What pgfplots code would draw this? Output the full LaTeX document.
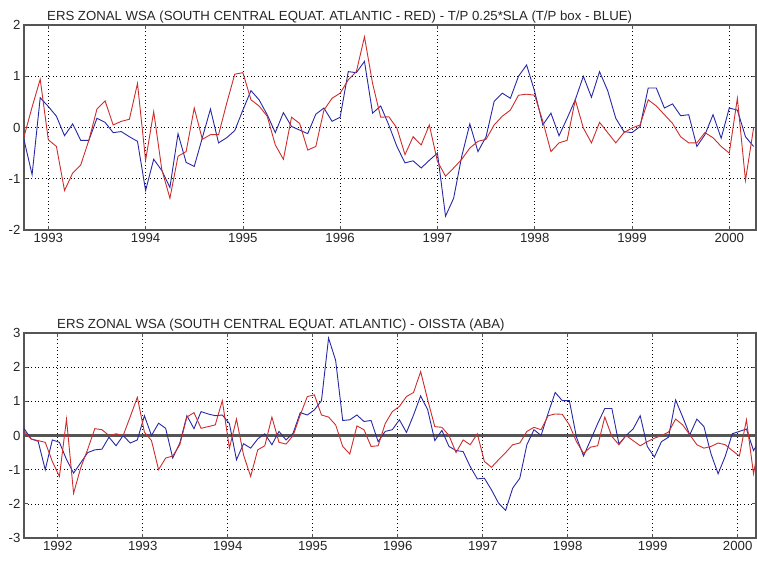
\documentclass[border=0pt]{standalone}
\usepackage{fontspec}
\setmainfont{Liberation Sans}
\usepackage{pgfplots}
\pgfplotsset{compat=1.18}
\definecolor{mred}{RGB}{205,45,45}
\definecolor{mblue}{RGB}{40,40,165}
\definecolor{mframe}{RGB}{85,85,85}
\pgfplotsset{mstyle/.style={
  scale only axis, width=732pt, height=205pt,
  axis line style={draw=mframe, line width=1.3pt},
  tick align=inside, major tick length=4pt,
  major tick style={draw=mframe, line width=0.7pt},
  grid=major,
  major grid style={draw=black, line width=0.6pt, dash pattern=on 0.6pt off 3pt},
  tick label style={font=\fontsize{13.2}{15}\selectfont, text=black!85},
}}
\begin{document}
\begin{tikzpicture}
\path[use as bounding box] (0,0) rectangle (757pt,560pt);
% ---------- top panel ----------
\begin{axis}[mstyle, at={(24pt,330pt)}, anchor=south west,
  xmin=0, xmax=90.3, ymin=-2, ymax=2,
  xtick={3,15,27,39,51,63,75,87},
  xticklabels={1993,1994,1995,1996,1997,1998,1999,2000},
  ytick={-2,-1,0,1,2}, yticklabels={-2,-1,0,1,2}]
\addplot[mblue, line width=0.9pt] coordinates {
(0,-0.24)(1,-0.92)(2,0.58)(3,0.41)(4,0.22)(5,-0.16)(6,0.07)(7,-0.25)(8,-0.25)(9,0.18)(10,0.1)(11,-0.1)(12,-0.08)(13,-0.18)(14,-0.27)(15,-1.23)(16,-0.62)(17,-0.84)(18,-1.17)(19,-0.12)(20,-0.68)(21,-0.76)(22,-0.2)(23,0.36)(24,-0.3)(25,-0.2)(26,-0.06)(27,0.34)(28,0.72)(29,0.54)(30,0.25)(31,-0.1)(32,0.29)(33,0.02)(34,-0.05)(35,-0.12)(36,0.26)(37,0.38)(38,0.12)(39,0.2)(40,1.09)(41,1.07)(42,1.29)(43,0.28)(44,0.42)(45,0.05)(46,-0.37)(47,-0.69)(48,-0.65)(49,-0.79)(50,-0.64)(51,-0.5)(52,-1.73)(53,-1.38)(54,-0.56)(55,0.07)(56,-0.47)(57,-0.18)(58,0.51)(59,0.67)(60,0.57)(61,1.0)(62,1.22)(63,0.7)(64,0.05)(65,0.28)(66,-0.16)(67,0.18)(68,0.54)(69,1.0)(70,0.59)(71,1.09)(72,0.72)(73,0.18)(74,-0.08)(75,-0.1)(76,0.02)(77,0.77)(78,0.77)(79,0.38)(80,0.46)(81,0.23)(82,0.25)(83,-0.37)(84,-0.14)(85,0.25)(86,-0.21)(87,0.38)(88,0.34)(89,-0.18)(90,-0.37)
};
\addplot[mred, line width=0.9pt] coordinates {
(0,-0.18)(1,0.4)(2,0.94)(3,-0.24)(4,-0.37)(5,-1.23)(6,-0.89)(7,-0.73)(8,-0.25)(9,0.36)(10,0.52)(11,0.05)(12,0.12)(13,0.16)(14,0.86)(15,-0.64)(16,0.31)(17,-0.82)(18,-1.38)(19,-0.56)(20,-0.47)(21,0.38)(22,-0.23)(23,-0.14)(24,-0.14)(25,0.47)(26,1.04)(27,1.07)(28,0.54)(29,0.42)(30,0.22)(31,-0.34)(32,-0.62)(33,0.2)(34,0.08)(35,-0.44)(36,-0.37)(37,0.34)(38,0.57)(39,0.67)(40,0.93)(41,1.09)(42,1.77)(43,0.86)(44,0.2)(45,0.21)(46,-0.01)(47,-0.53)(48,-0.18)(49,-0.34)(50,0.05)(51,-0.66)(52,-0.95)(53,-0.79)(54,-0.62)(55,-0.4)(56,-0.27)(57,-0.23)(58,0.05)(59,0.22)(60,0.34)(61,0.63)(62,0.65)(63,0.63)(64,0.12)(65,-0.47)(66,-0.3)(67,-0.25)(68,0.54)(69,-0.01)(70,-0.3)(71,0.1)(72,-0.1)(73,-0.3)(74,-0.1)(75,-0.01)(76,0.05)(77,0.54)(78,0.42)(79,0.25)(80,0.08)(81,-0.18)(82,-0.3)(83,-0.3)(84,-0.1)(85,-0.2)(86,-0.37)(87,-0.5)(88,0.57)(89,-1.03)(90,-0.01)
};
\end{axis}
\node[anchor=base west, font=\fontsize{13.2}{15}\selectfont, text=black!85, inner sep=0pt] at (47pt,539.5pt)
  {ERS ZONAL WSA (SOUTH CENTRAL EQUAT. ATLANTIC - RED) - T/P 0.25*SLA (T/P box - BLUE)};
% ---------- bottom panel ----------
\begin{axis}[mstyle, at={(24pt,22pt)}, anchor=south west,
  xmin=0, xmax=103.35, ymin=-3, ymax=3,
  xtick={4.76,16.76,28.76,40.76,52.76,64.76,76.76,88.76,100.76},
  xticklabels={1992,1993,1994,1995,1996,1997,1998,1999,2000},
  ytick={-3,-2,-1,0,1,2,3}, yticklabels={-3,-2,-1,0,1,2,3}]
\addplot[mframe, line width=2.2pt] coordinates {(0,0)(104,0)};
\addplot[mblue, line width=0.9pt] coordinates {
(0,0.21)(1,-0.1)(2,-0.17)(3,-1.0)(4,-0.13)(5,-0.2)(6,-0.7)(7,-1.1)(8,-0.8)(9,-0.5)(10,-0.42)(11,-0.4)(12,-0.05)(13,-0.3)(14,0.0)(15,-0.22)(16,-0.13)(17,0.58)(18,0.0)(19,0.36)(20,0.21)(21,-0.66)(22,-0.22)(23,0.58)(24,0.2)(25,0.7)(26,0.63)(27,0.58)(28,0.6)(29,0.35)(30,-0.71)(31,-0.24)(32,-0.37)(33,-0.1)(34,0.05)(35,-0.27)(36,0.12)(37,-0.13)(38,0.07)(39,0.67)(40,0.6)(41,0.75)(42,1.02)(43,2.85)(44,2.2)(45,0.44)(46,0.46)(47,0.6)(48,0.41)(49,0.44)(50,-0.18)(51,0.12)(52,0.17)(53,0.46)(54,0.09)(55,0.6)(56,1.16)(57,0.75)(58,-0.15)(59,0.15)(60,-0.32)(61,-0.44)(62,-0.47)(63,-0.91)(64,-1.27)(65,-1.25)(66,-1.59)(67,-1.98)(68,-2.19)(69,-1.54)(70,-1.25)(71,-0.27)(72,0.17)(73,0.0)(74,0.65)(75,1.26)(76,1.02)(77,1.02)(78,-0.05)(79,-0.6)(80,-0.13)(81,0.35)(82,0.79)(83,0.79)(84,-0.25)(85,0.0)(86,0.19)(87,0.58)(88,-0.32)(89,-0.63)(90,-0.18)(91,-0.05)(92,1.04)(93,0.54)(94,0.02)(95,0.48)(96,0.26)(97,-0.54)(98,-1.12)(99,-0.61)(100,0.05)(101,0.12)(102,0.19)(103,-0.44)(104,-0.1)
};
\addplot[mred, line width=0.9pt] coordinates {
(0,0.12)(1,-0.1)(2,-0.15)(3,-0.2)(4,-0.76)(5,-1.2)(6,0.48)(7,-1.69)(8,-0.95)(9,-0.4)(10,0.2)(11,0.17)(12,0.0)(13,0.05)(14,0.0)(15,0.55)(16,1.12)(17,0.1)(18,-0.15)(19,-1.0)(20,-0.66)(21,-0.6)(22,-0.27)(23,0.54)(24,0.67)(25,0.21)(26,0.26)(27,0.31)(28,1.02)(29,-0.37)(30,0.48)(31,-0.57)(32,-1.2)(33,-0.42)(34,-0.3)(35,0.54)(36,-0.2)(37,-0.25)(38,0.0)(39,0.6)(40,1.14)(41,1.19)(42,0.6)(43,0.54)(44,0.31)(45,-0.32)(46,-0.54)(47,0.28)(48,0.17)(49,-0.32)(50,-0.3)(51,0.35)(52,0.7)(53,0.85)(54,1.14)(55,1.26)(56,1.87)(57,1.04)(58,0.26)(59,0.24)(60,0.0)(61,-0.5)(62,-0.13)(63,-0.27)(64,0.05)(65,-0.76)(66,-0.93)(67,-0.71)(68,-0.5)(69,-0.27)(70,-0.22)(71,0.12)(72,0.24)(73,0.17)(74,0.58)(75,0.63)(76,0.62)(77,0.31)(78,-0.18)(79,-0.52)(80,-0.34)(81,-0.3)(82,0.54)(83,-0.03)(84,-0.27)(85,0.0)(86,-0.15)(87,-0.3)(88,-0.18)(89,-0.08)(90,0.0)(91,0.1)(92,0.48)(93,0.31)(94,0.02)(95,-0.27)(96,-0.37)(97,-0.32)(98,-0.22)(99,-0.27)(100,-0.44)(101,-0.6)(102,0.46)(103,-1.12)(104,0.0)
};
\end{axis}
\node[anchor=base west, font=\fontsize{13.2}{15}\selectfont, text=black!85, inner sep=0pt] at (57pt,231pt)
  {ERS ZONAL WSA (SOUTH CENTRAL EQUAT. ATLANTIC) - OISSTA (ABA)};
\end{tikzpicture}
\end{document}
